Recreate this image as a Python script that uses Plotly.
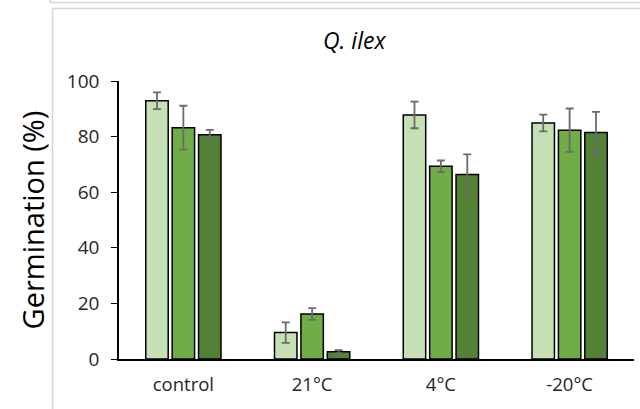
import plotly.graph_objects as go

categories = ["control", "21°C", "4°C", "-20°C"]
series_a = [92.9, 9.5, 87.8, 84.9]
series_a_err = [3.0, 3.7, 4.8, 3.0]
series_b = [83.2, 16.2, 69.3, 82.3]
series_b_err = [7.9, 2.1, 2.1, 7.8]
series_c = [80.7, 2.6, 66.4, 81.5]
series_c_err = [1.7, 0.6, 7.2, 7.4]
colors = ["#c5e0b4", "#70ad47", "#538135"]
y_ticks = [0, 20, 40, 60, 80, 100]

fig = go.Figure()
for vals, errs, col, name in [
    (series_a, series_a_err, colors[0], "A"),
    (series_b, series_b_err, colors[1], "B"),
    (series_c, series_c_err, colors[2], "C"),
]:
    fig.add_trace(go.Bar(
        x=categories, y=vals, name=name,
        marker=dict(color=col, line=dict(color="black", width=1.5)),
        error_y=dict(type="data", array=errs, visible=True,
                     color="#6b6b6b", thickness=1.8, width=4),
    ))

FONT = "Open Sans"
fig.update_layout(
    width=640, height=409,
    margin=dict(l=119, r=6, t=81, b=50),
    paper_bgcolor="white", plot_bgcolor="white",
    barmode="group", bargap=0.385, bargroupgap=0.15,
    showlegend=False,
    font=dict(family=FONT, color="#404040"),
    xaxis=dict(showline=True, linecolor="black", linewidth=1.5,
               ticks="", showgrid=False, tickfont=dict(size=18.5, color="#262626"),
               ticklabelstandoff=8),
    yaxis=dict(range=[0, 100], tickvals=y_ticks, showline=True, linecolor="black",
               linewidth=1.5, ticks="outside", ticklen=6, tickcolor="black",
               showgrid=False, zeroline=False,
               tickfont=dict(size=19, color="#262626"), ticklabelstandoff=8,
               title=dict(text="Germination (%)", font=dict(size=29, color="black"),
                          standoff=14)),
    annotations=[dict(text="<i>Q. ilex</i>", xref="paper", yref="paper",
                      x=0.458, y=1.147, showarrow=False,
                      font=dict(size=23, color="black", family=FONT),
                      xanchor="center", yanchor="middle")],
)

# gray frame lines (paper coordinates: x px = 119 + 515*x, y px = 359 - 278*y)
def px_x(p):
    return (p - 119) / 515.0

def px_y(p):
    return (359 - p) / 278.0

gray = "#d6d6d6"
fig.add_shape(type="line", xref="paper", yref="paper",
              x0=px_x(50), x1=px_x(640), y0=px_y(2.5), y1=px_y(2.5),
              line=dict(color=gray, width=1.5))
fig.add_shape(type="line", xref="paper", yref="paper",
              x0=px_x(50), x1=px_x(50), y0=px_y(0), y1=px_y(2.5),
              line=dict(color=gray, width=1.5))
fig.add_shape(type="line", xref="paper", yref="paper",
              x0=px_x(52.5), x1=px_x(640), y0=px_y(8.5), y1=px_y(8.5),
              line=dict(color=gray, width=1.5))
fig.add_shape(type="line", xref="paper", yref="paper",
              x0=px_x(52.5), x1=px_x(52.5), y0=px_y(8.5), y1=px_y(409),
              line=dict(color=gray, width=1.5))

fig.write_html("out.html")
